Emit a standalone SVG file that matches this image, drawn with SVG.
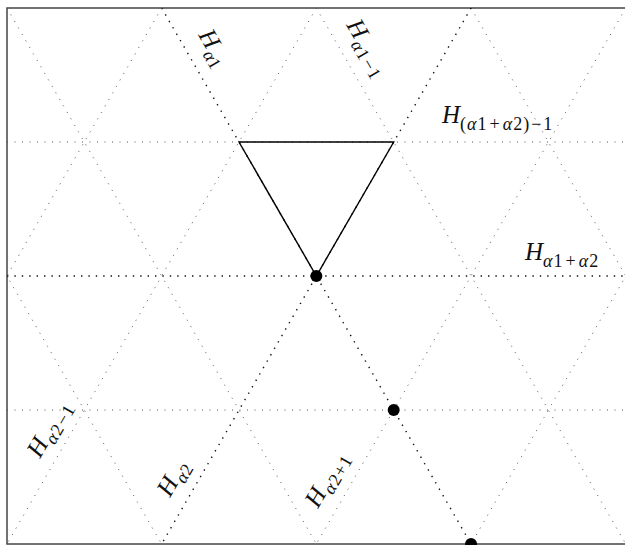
<svg xmlns="http://www.w3.org/2000/svg" width="625" height="545" viewBox="0 0 625 545">
<defs>
<clipPath id="frameClip"><rect x="7" y="8" width="625" height="536"/></clipPath>
<style>
.light{stroke:#555;stroke-width:1;stroke-dasharray:1 6.5;fill:none}
.dark{stroke:#111;stroke-width:1.4;stroke-dasharray:1.4 6;fill:none}
.tri{stroke:#000;stroke-width:1.4;fill:none;stroke-linejoin:miter}
.pt{fill:#000}
.lab{font-family:"Liberation Serif","Times New Roman",serif;font-size:25px;fill:#111}
.it{font-style:italic}
.sub{font-size:18px}
</style>
</defs>
<rect x="7" y="8" width="630" height="536" fill="#fff" stroke="#444" stroke-width="1.5"/>
<g id="connectors" clip-path="url(#frameClip)">
<line class="light" x1="7" y1="142" x2="625" y2="142"/>
<line class="dark" x1="7" y1="276" x2="625" y2="276"/>
<line class="light" x1="7" y1="410" x2="625" y2="410"/>
<line class="light" x1="-147.75" y1="8" x2="161.65" y2="544"/>
<line class="light" x1="6.95" y1="8" x2="316.35" y2="544"/>
<line class="dark" x1="161.65" y1="8" x2="471.05" y2="544"/>
<line class="light" x1="316.35" y1="8" x2="625.75" y2="544"/>
<line class="light" x1="471.05" y1="8" x2="780.45" y2="544"/>
<line class="light" x1="161.65" y1="8" x2="-147.75" y2="544"/>
<line class="light" x1="316.35" y1="8" x2="6.95" y2="544"/>
<line class="dark" x1="471.05" y1="8" x2="161.65" y2="544"/>
<line class="light" x1="625.75" y1="8" x2="316.35" y2="544"/>
<line class="light" x1="780.45" y1="8" x2="471.05" y2="544"/>
</g>
<g id="triangle">
<polygon class="tri" points="239,142 393.7,142 316.35,276"/>
</g>
<g id="point1"><circle class="pt" cx="316.35" cy="276" r="6"/></g>
<g id="point2"><circle class="pt" cx="393.7" cy="410" r="6"/></g>
<g id="point3"><circle class="pt" cx="471.05" cy="544" r="6"/></g>
<g id="label-Ha1">
<text class="lab" transform="translate(198,35) rotate(60)"><tspan class="it">H</tspan><tspan class="sub" dy="6" dx="1"><tspan class="it">α</tspan>1</tspan></text>
</g>
<g id="label-Ha1m1">
<text class="lab" transform="translate(346,25) rotate(60)"><tspan class="it">H</tspan><tspan class="sub" dy="6" dx="1" letter-spacing="1"><tspan class="it">α</tspan>1<tspan dx="1">−</tspan>1</tspan></text>
</g>
<g id="label-Ha1a2m1">
<text class="lab" x="442" y="123"><tspan class="it">H</tspan><tspan class="sub" dy="7" letter-spacing="1">(<tspan class="it">α</tspan>1<tspan dx="2">+</tspan><tspan dx="2" class="it">α</tspan>2)<tspan dx="1">−</tspan><tspan dx="1">1</tspan></tspan></text>
</g>
<g id="label-Ha1a2">
<text class="lab" x="525" y="260"><tspan class="it">H</tspan><tspan class="sub" dy="7" letter-spacing="1"><tspan class="it">α</tspan>1<tspan dx="2">+</tspan><tspan dx="2" class="it">α</tspan>2</tspan></text>
</g>
<g id="label-Ha2m1">
<text class="lab" transform="translate(40,459) rotate(-60)"><tspan class="it">H</tspan><tspan class="sub" dy="6" dx="1" letter-spacing="1"><tspan class="it">α</tspan>2<tspan dx="1">−</tspan>1</tspan></text>
</g>
<g id="label-Ha2">
<text class="lab" transform="translate(170,498) rotate(-60)"><tspan class="it">H</tspan><tspan class="sub" dy="6" dx="1"><tspan class="it">α</tspan>2</tspan></text>
</g>
<g id="label-Ha2p1">
<text class="lab" transform="translate(318,509) rotate(-60)"><tspan class="it">H</tspan><tspan class="sub" dy="6" dx="1" letter-spacing="1"><tspan class="it">α</tspan>2+1</tspan></text>
</g>
</svg>
